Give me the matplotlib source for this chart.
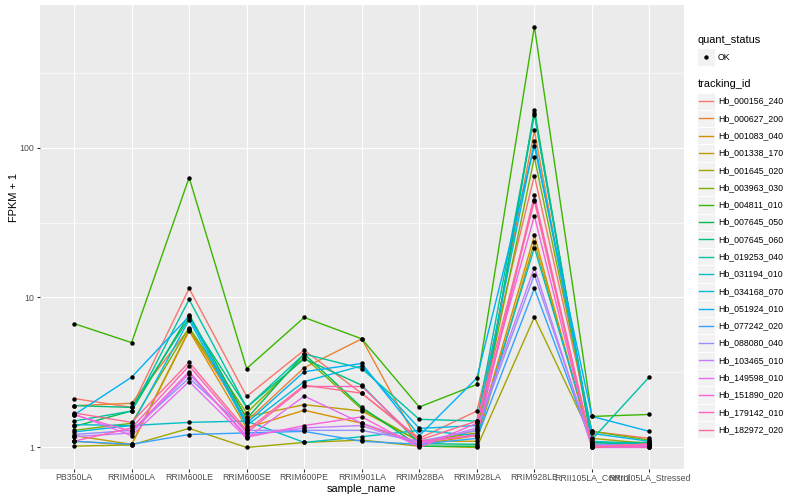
import matplotlib
matplotlib.use("Agg")
import matplotlib.pyplot as plt
import numpy as np
from matplotlib.patches import Rectangle

plt.rcParams['font.family'] = ['Liberation Sans', 'DejaVu Sans']

samples = ["PB350LA", "RRIM600LA", "RRIM600LE", "RRIM600SE", "RRIM600PE",
           "RRIM901LA", "RRIM928BA", "RRIM928LA", "RRIM928LE",
           "RRII105LA_Control", "RRII105LA_Stressed"]

tracking_ids = ["Hb_000156_240", "Hb_000627_200", "Hb_001083_040", "Hb_001338_170",
                "Hb_001645_020", "Hb_003963_030", "Hb_004811_010", "Hb_007645_050",
                "Hb_007645_060", "Hb_019253_040", "Hb_031194_010", "Hb_034168_070",
                "Hb_051924_010", "Hb_077242_020", "Hb_088080_040", "Hb_103465_010",
                "Hb_149598_010", "Hb_151890_020", "Hb_179142_010", "Hb_182972_020"]

colors = ["#F8766D", "#EA8331", "#D89000", "#C09B00", "#A3A500", "#7CAE00",
          "#39B600", "#00BB4E", "#00BF7D", "#00C1A3", "#00BFC4", "#00BAE0",
          "#00B0F6", "#35A2FF", "#9590FF", "#C77CFF", "#E76BF3", "#FA62DB",
          "#FF62BC", "#FF6C91"]

# FPKM + 1 values per gene, in sample order
hb_000156_240 = [2.12, 1.85, 11.5, 2.19, 4.45, 2.29, 1.15, 1.75, 65.0, 1.28, 1.15]
hb_000627_200 = [1.90, 1.97, 6.2, 1.50, 3.40, 5.30, 1.05, 1.30, 130.0, 1.05, 1.03]
hb_001083_040 = [1.10, 1.04, 6.0, 1.35, 1.77, 1.45, 1.05, 1.20, 26.0, 1.00, 1.02]
hb_001338_170 = [1.20, 1.05, 6.1, 1.60, 1.93, 1.75, 1.10, 1.10, 23.4, 1.03, 1.00]
hb_001645_020 = [1.02, 1.04, 1.34, 1.00, 1.08, 1.12, 1.02, 1.00, 7.4, 1.15, 1.06]
hb_003963_030 = [1.30, 1.45, 6.3, 1.70, 4.00, 1.80, 1.10, 1.25, 86.0, 1.28, 1.12]
hb_004811_010 = [6.70, 5.00, 63.0, 3.36, 7.36, 5.30, 1.86, 2.63, 641.0, 1.61, 1.66]
hb_007645_050 = [1.38, 1.75, 7.7, 1.55, 4.20, 1.85, 1.02, 1.02, 179.0, 1.08, 1.08]
hb_007645_060 = [1.90, 1.85, 7.3, 1.85, 3.90, 2.60, 1.06, 1.05, 170.0, 1.05, 1.08]
hb_019253_040 = [1.50, 1.75, 9.7, 1.85, 4.20, 3.36, 1.54, 1.50, 166.0, 1.13, 2.96]
hb_031194_010 = [1.42, 1.40, 1.47, 1.50, 1.08, 1.18, 1.30, 1.20, 21.5, 1.10, 1.05]
hb_034168_070 = [1.27, 1.40, 7.1, 1.40, 2.75, 3.50, 1.34, 1.40, 110.0, 1.24, 1.10]
hb_051924_010 = [1.65, 2.94, 7.5, 1.45, 3.20, 3.63, 1.20, 2.90, 102.0, 1.61, 1.28]
hb_077242_020 = [1.10, 1.05, 1.22, 1.25, 1.28, 1.10, 1.05, 1.15, 11.5, 1.05, 1.02]
hb_088080_040 = [1.22, 1.30, 2.9, 1.30, 1.30, 1.30, 1.10, 1.30, 14.2, 1.05, 1.02]
hb_103465_010 = [1.18, 1.25, 3.1, 1.20, 1.35, 1.40, 1.05, 1.35, 15.8, 1.00, 1.00]
hb_149598_010 = [1.67, 1.20, 2.75, 1.15, 2.20, 1.45, 1.08, 1.22, 45.0, 1.02, 1.05]
hb_151890_020 = [1.65, 1.28, 3.2, 1.17, 1.40, 1.60, 1.00, 1.45, 35.0, 1.00, 1.03]
hb_179142_010 = [1.10, 1.35, 3.5, 1.25, 2.55, 2.55, 1.10, 1.20, 48.0, 1.02, 1.00]
hb_182972_020 = [1.70, 1.47, 3.7, 1.30, 2.60, 2.30, 1.12, 1.50, 44.0, 1.00, 1.06]

series = [hb_000156_240, hb_000627_200, hb_001083_040, hb_001338_170, hb_001645_020,
          hb_003963_030, hb_004811_010, hb_007645_050, hb_007645_060, hb_019253_040,
          hb_031194_010, hb_034168_070, hb_051924_010, hb_077242_020, hb_088080_040,
          hb_103465_010, hb_149598_010, hb_151890_020, hb_179142_010, hb_182972_020]

W, H = 800, 500
fig = plt.figure(figsize=(8, 5), dpi=100)
fig.patch.set_facecolor('white')

pl, pr, pt, pb = 39.5, 684.0, 5.5, 468.5
ax = fig.add_axes([pl / W, (H - pb) / H, (pr - pl) / W, (pb - pt) / H])
ax.set_facecolor('#EBEBEB')
for s in ax.spines.values():
    s.set_visible(False)
ax.set_yscale('log')

x = np.arange(len(samples))
for vals, c in zip(series, colors):
    ax.plot(x, vals, color=c, lw=1.0, zorder=2, solid_joinstyle='round')
for vals in series:
    ax.plot(x, vals, linestyle='none', marker='o', markersize=3.2,
            markerfacecolor='black', markeredgewidth=0, zorder=3)

allv = np.log10(np.concatenate([np.array(v) for v in series]))
lo, hi = allv.min(), allv.max()
ex = 0.05 * (hi - lo)
ax.set_ylim(10 ** (lo - ex), 10 ** (hi + ex))
ax.set_xlim(-0.6, len(samples) - 0.4)

ax.set_yticks([1, 10, 100])
ax.set_yticklabels(['1', '10', '100'])
ax.set_yticks([10 ** 0.5, 10 ** 1.5, 10 ** 2.5], minor=True)
ax.yaxis.set_minor_formatter(matplotlib.ticker.NullFormatter())
ax.set_xticks(x)
ax.set_xticklabels(samples)

ax.set_axisbelow(True)
ax.grid(which='major', color='white', lw=0.8)
ax.grid(which='minor', axis='y', color='white', lw=0.4)
ax.tick_params(which='major', length=2.0, width=0.8, color='#333333',
               labelcolor='#4D4D4D', labelsize=6.34, pad=1.6)
ax.tick_params(which='minor', length=0)

ax.set_xlabel('sample_name', fontsize=7.92, color='black')
ax.xaxis.set_label_coords(0.5, (pb - 489.5) / (pb - pt))
ax.xaxis.label.set_va('center')
ax.set_ylabel('FPKM + 1', fontsize=7.92, color='black')
ax.yaxis.set_label_coords((14 - pl) / (pr - pl), (pb - 198) / (pb - pt))
ax.yaxis.label.set_va('center')

# legend (drawn in pixel coordinates)
lax = fig.add_axes([0, 0, 1, 1])
lax.set_xlim(0, W)
lax.set_ylim(H, 0)
lax.axis('off')

kx, ks = 697.3, 17.28
lax.text(kx, 40, 'quant_status', fontsize=7.92, va='center', ha='left')
lax.add_patch(Rectangle((kx, 57 - ks / 2), ks, ks, facecolor='#F2F2F2',
                        edgecolor='white', lw=0.7))
lax.plot([kx + ks / 2], [57], marker='o', markersize=3.2, color='black',
         markeredgewidth=0)
lax.text(kx + ks + 3.2, 57, 'OK', fontsize=6.34, va='center', ha='left')

lax.text(kx, 84, 'tracking_id', fontsize=7.92, va='center', ha='left')
y0 = 101.2
for i, (tid, c) in enumerate(zip(tracking_ids, colors)):
    cy = y0 + i * ks
    lax.add_patch(Rectangle((kx, cy - ks / 2), ks, ks, facecolor='#F2F2F2',
                            edgecolor='white', lw=0.7))
    lax.plot([kx + 1.7, kx + ks - 1.7], [cy, cy], color=c, lw=1.0)
    lax.text(kx + ks + 3.2, cy, tid, fontsize=6.34, va='center', ha='left')

fig.savefig('out.png', dpi=100)
